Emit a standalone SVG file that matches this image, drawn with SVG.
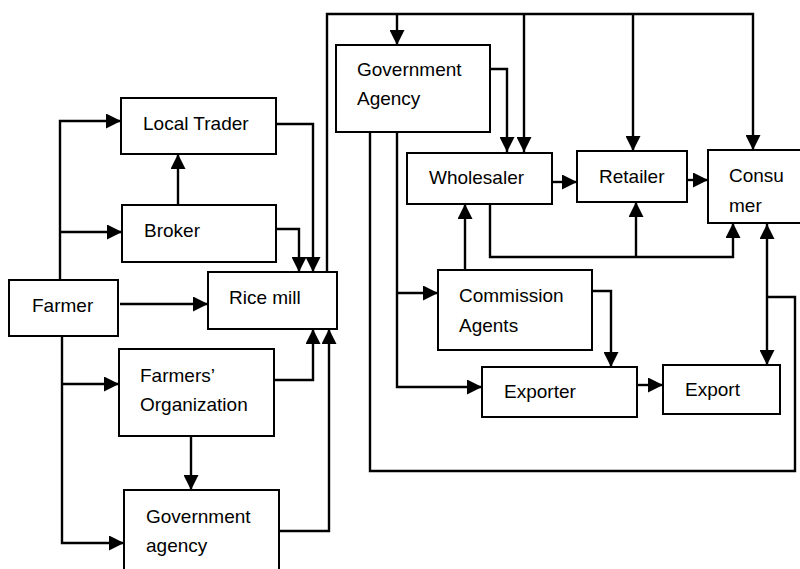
<svg xmlns="http://www.w3.org/2000/svg" width="800" height="569" viewBox="0 0 800 569">
<style>
.box{fill:#fff;stroke:#000;stroke-width:2}
.t{font-family:"Liberation Sans",Arial,sans-serif;font-size:19px;fill:#000}
.c{fill:none;stroke:#000;stroke-width:2.4}
.a{marker-end:url(#ah)}
</style>
<defs>
<marker id="ah" markerUnits="userSpaceOnUse" markerWidth="15" markerHeight="15" refX="15" refY="7.5" orient="auto">
<path d="M0,0 L15,7.5 L0,15 z" fill="#000"/>
</marker>
<marker id="as" markerUnits="userSpaceOnUse" markerWidth="15" markerHeight="15" refX="0" refY="7.5" orient="auto">
<path d="M15,0 L0,7.5 L15,15 z" fill="#000"/>
</marker>
</defs>
<rect width="800" height="569" fill="#fff"/>
<g id="connectors">
<path class="c a" d="M60,280 V121 H121"/>
<path class="c a" d="M60,232 H122"/>
<path class="c a" d="M178,205 V154"/>
<path class="c a" d="M120,304 H208"/>
<path class="c a" d="M276,124 H313 V272"/>
<path class="c a" d="M276,229 H299 V272"/>
<path class="c a" d="M62,336 V543 H124"/>
<path class="c a" d="M62,384 H119"/>
<path class="c a" d="M191,436 V490"/>
<path class="c a" d="M274,380 H313 V329"/>
<path class="c a" d="M279,531 H329 V329"/>
<path class="c a" d="M327,272 V14 H753 V150"/>
<path class="c a" d="M397,14 V45"/>
<path class="c a" d="M524,14 V152"/>
<path class="c a" d="M633,14 V151"/>
<path class="c a" d="M486,69 H507 V152"/>
<path class="c a" d="M397,132 V387 H482"/>
<path class="c a" d="M397,293 H438"/>
<path class="c" d="M370,132 V471 H795 V297 H767"/>
<path class="c a" d="M767,224 V365" style="marker-start:url(#as)"/>
<path class="c a" d="M465,270 V204"/>
<path class="c a" d="M592,291 H611 V367"/>
<path class="c a" d="M552,182 H577"/>
<path class="c a" d="M687,180 H708"/>
<path class="c a" d="M490,204 V257 H733 V223"/>
<path class="c a" d="M636,257 V202"/>
<path class="c a" d="M637,385 H663"/>
</g>
<g id="farmer"><rect class="box" x="9" y="280" width="109" height="56"/><text class="t" x="32" y="312">Farmer</text></g>
<g id="local-trader"><rect class="box" x="121" y="98" width="155" height="56"/><text class="t" x="143" y="130">Local Trader</text></g>
<g id="broker"><rect class="box" x="122" y="205" width="154" height="57"/><text class="t" x="144" y="237">Broker</text></g>
<g id="rice-mill"><rect class="box" x="208" y="272" width="129" height="57"/><text class="t" x="229" y="304">Rice mill</text></g>
<g id="farmers-org"><rect class="box" x="119" y="349" width="155" height="87"/><text class="t" x="140" y="382">Farmers’</text><text class="t" x="140" y="411">Organization</text></g>
<g id="gov-agency-left"><rect class="box" x="124" y="490" width="155" height="100"/><text class="t" x="146" y="523">Government</text><text class="t" x="146" y="552">agency</text></g>
<g id="gov-agency-top"><rect class="box" x="336" y="45" width="154" height="87"/><text class="t" x="357" y="76">Government</text><text class="t" x="357" y="105">Agency</text></g>
<g id="wholesaler"><rect class="box" x="407" y="153" width="145" height="51"/><text class="t" x="429" y="184">Wholesaler</text></g>
<g id="retailer"><rect class="box" x="577" y="151" width="110" height="51"/><text class="t" x="599" y="183">Retailer</text></g>
<g id="consumer"><rect class="box" x="708" y="150" width="100" height="73"/><text class="t" x="729" y="182">Consu</text><text class="t" x="729" y="212">mer</text></g>
<g id="commission-agents"><rect class="box" x="438" y="270" width="154" height="80"/><text class="t" x="459" y="302">Commission</text><text class="t" x="459" y="332">Agents</text></g>
<g id="exporter"><rect class="box" x="482" y="367" width="155" height="50"/><text class="t" x="504" y="398">Exporter</text></g>
<g id="export"><rect class="box" x="663" y="365" width="117" height="49"/><text class="t" x="685" y="396">Export</text></g>
</svg>
